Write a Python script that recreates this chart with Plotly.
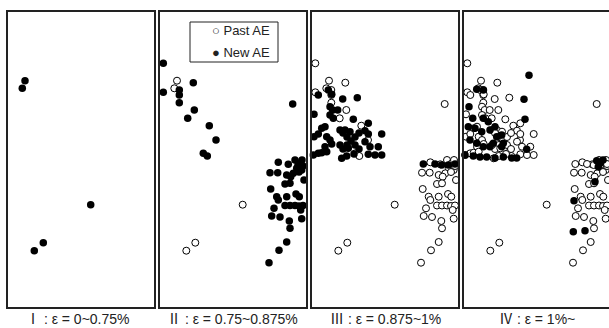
import plotly.graph_objects as go

W, H = 609, 328

stage_labels = ["Ⅰ : ε = 0~0.75%", "Ⅱ : ε = 0.75~0.875%", "Ⅲ : ε = 0.875~1%", "Ⅳ : ε = 1%~"]

# New AE sources detected in each stage (panel coordinates: x right, y up)
new_I_x = [17.0, 14.3, 82.7, 35.3, 26.3]
new_I_y = [226.3, 218.7, 102.3, 64.3, 56.3]

new_II_x = [3.3, 3.3, 19.3, 19.3, 19.3, 33.3, 34.3, 27.7, 49.3, 56.0, 43.3, 47.3, 132.7,
            118.3, 110.0, 117.7, 128.3, 135.0, 138.0, 141.7, 136.7, 133.3, 144.0, 148.3, 140.0, 143.0, 139.0, 142.0,
            126.7, 130.7, 110.7, 125.0, 130.0, 116.7, 118.3, 126.7, 136.0, 139.3,
            125.0, 130.0, 135.0, 139.0, 143.0, 140.7, 114.0, 111.7, 120.0, 141.7, 129.3, 130.0, 126.7, 119.0, 109.0]
new_II_y = [243.7, 214.7, 217.0, 212.0, 204.3, 224.3, 197.0, 188.7, 181.3, 167.0, 153.7, 151.0, 203.0,
            144.7, 134.3, 134.3, 142.7, 147.0, 142.0, 137.0, 138.7, 133.7, 127.0, 150.3, 144.0, 141.0, 135.0, 147.0,
            132.0, 130.3, 118.0, 123.0, 123.7, 110.3, 107.0, 110.3, 113.0, 110.3,
            101.5, 101.5, 101.5, 101.0, 101.5, 97.0, 98.7, 91.0, 90.0, 88.3, 86.0, 78.7, 65.0, 56.7, 44.3]

new_III_x = [6.3, 16.3, 19.7, 30.7, 45.3, 18.0, 20.7, 25.7, 2.0, 18.0, 21.3, 13.0, 9.7, 41.3, 28.0, 33.0, 38.0,
             56.3, 53.0, 56.3, 69.7, 2.0, 6.3, 14.7, 18.0,
             31.0, 35.0, 39.0, 43.0, 47.0, 43.0, 47.0, 35.0, 31.0,
             28.0, 36.3, 13.0, 19.7, 53.0, 58.0, 66.3, 1.3, 6.3, 9.7, 14.7, 29.7, 34.7, 42.0, 56.3, 63.0, 69.7,
             111.3, 123.0, 129.7, 136.3, 143.0]
new_III_y = [212.0, 217.0, 212.7, 208.0, 209.3, 200.3, 197.0, 197.0, 192.7, 192.0, 188.7, 180.3, 178.7, 187.7, 177.0, 177.0, 175.3,
             183.7, 176.3, 173.0, 173.0, 170.3, 173.0, 170.3, 167.0,
             174.0, 170.0, 166.0, 162.0, 158.0, 170.0, 174.0, 162.0, 158.0,
             162.0, 158.7, 160.3, 163.0, 165.3, 160.3, 160.3, 152.0, 153.7, 154.3, 155.3, 148.7, 151.0, 153.0, 152.7, 152.0, 152.0,
             143.0, 143.0, 142.0, 142.0, 143.0]

new_IV_x = [65.0, 60.0, 12.7, 19.3, 5.0, 8.7, 61.0, 19.3, 24.3, 4.3, 11.0, 17.7, 26.0, 31.0, 37.7, 32.7,
            6.0, 12.7, 19.3, 26.0, 29.3, 37.7, 39.3, 62.7,
            1.0, 9.3, 16.0, 22.7, 31.0, 39.3, 47.7, 52.7,
            132.7, 134.3, 136.0, 139.0, 131.0, 110.0, 109.3, 121.0]
new_IV_y = [231.7, 207.7, 217.7, 217.0, 200.3, 188.7, 187.7, 188.7, 185.3, 180.3, 178.7, 175.3, 177.0, 180.3, 172.0, 170.3,
            167.0, 163.7, 160.3, 160.3, 163.7, 160.3, 163.7, 157.7,
            152.0, 151.0, 150.0, 150.0, 149.0, 150.0, 149.0, 149.0,
            146.3, 140.3, 143.7, 147.0, 125.3, 106.3, 75.3, 76.3]

new_x = [new_I_x, new_II_x, new_III_x, new_IV_x]
new_y = [new_I_y, new_II_y, new_III_y, new_IV_y]

# panel geometry (pixels)
panel_left = [8, 160, 312, 464]
panel_w = 146
top_px, bot_px = 12, 307
x_ranges = [[0, 146], [0, 146], [0, 146], [0, 145]]
y_range = [0, 295]
label_cx = [78, 232.5, 385, 536.5]

fig = go.Figure()
ydom = [(H - bot_px) / H, (H - top_px) / H]
line_col = "#222"

for k in range(4):
    sfx = "" if k == 0 else str(k + 1)
    past_x = sum(new_x[:k], [])
    past_y = sum(new_y[:k], [])
    if past_x:
        fig.add_trace(go.Scatter(
            x=past_x, y=past_y, mode="markers", name="Past AE",
            marker=dict(symbol="circle", size=7, color="white",
                        line=dict(color="black", width=1)),
            xaxis="x" + sfx, yaxis="y" + sfx, cliponaxis=False, showlegend=False))
    fig.add_trace(go.Scatter(
        x=new_x[k], y=new_y[k], mode="markers", name="New AE",
        marker=dict(symbol="circle", size=7.5, color="black", line=dict(width=0)),
        xaxis="x" + sfx, yaxis="y" + sfx, cliponaxis=False, showlegend=False))

    x0 = panel_left[k] / W
    x1 = min(1.0, (panel_left[k] + panel_w) / W)
    common = dict(showgrid=False, zeroline=False, showticklabels=False, ticks="",
                  showline=True, linecolor=line_col, linewidth=1.5)
    fig.update_layout(**{
        "xaxis" + sfx: dict(domain=[x0, x1], range=x_ranges[k], anchor="y" + sfx,
                            mirror=True, **common),
        "yaxis" + sfx: dict(domain=ydom, range=y_range, anchor="x" + sfx,
                            mirror=(k < 3), **common),
    })
    fig.add_annotation(x=label_cx[k] / W, y=0.5 / H, xref="paper", yref="paper",
                       text=stage_labels[k], showarrow=False, xanchor="center", yanchor="bottom",
                       borderpad=0,
                       font=dict(size=14, color="#222",
                                 family="Liberation Sans, Arial, Noto Sans CJK JP"))

# legend box in panel II
fig.add_shape(type="rect", xref="paper", yref="paper",
              x0=190 / W, x1=278 / W, y0=(H - 62) / H, y1=(H - 22) / H,
              line=dict(color=line_col, width=1), fillcolor="white", layer="above")
for txt, py in [("○ Past AE", 31), ("● New AE", 52)]:
    fig.add_annotation(x=272 / W, y=(H - py) / H, xref="paper", yref="paper",
                       text=txt, showarrow=False, xanchor="right", yanchor="middle",
                       font=dict(size=13, color="#222", family="Liberation Sans, Arial"))

fig.update_layout(width=W, height=H, margin=dict(l=0, r=0, t=0, b=0),
                  paper_bgcolor="white", plot_bgcolor="white", showlegend=False)

fig.write_html("out.html")
